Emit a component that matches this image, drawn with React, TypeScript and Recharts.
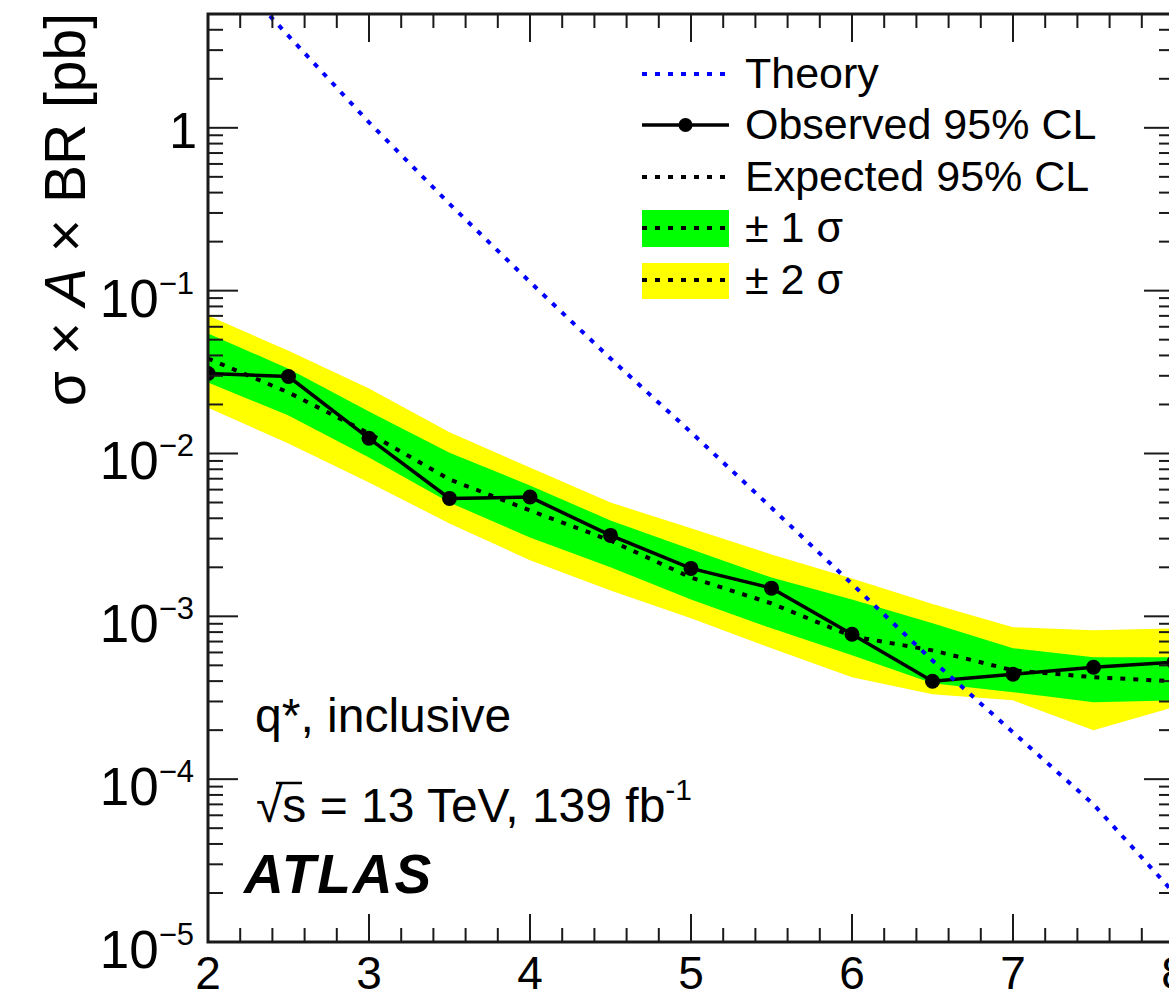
import { Area, ComposedChart, Line, XAxis, YAxis } from "recharts";

// q* mass points [TeV]
const mass = [2, 2.5, 3, 3.5, 4, 4.5, 5, 5.5, 6, 6.5, 7, 7.5, 8];

const observed = [0.031, 0.0297, 0.0124, 0.0053, 0.0054, 0.00314, 0.00197, 0.00149, 0.000776, 0.000399, 0.000441, 0.000487, 0.000522];
const expected = [0.0383, 0.0237, 0.0133, 0.00693, 0.00447, 0.00292, 0.00173, 0.0012, 0.000754, 0.000618, 0.000466, 0.000423, 0.000399];
const plus1 = [0.0545, 0.0332, 0.0181, 0.0101, 0.00636, 0.00388, 0.00258, 0.00173, 0.00127, 0.000906, 0.000637, 0.00056, 0.00056];
const minus1 = [0.0273, 0.0171, 0.00945, 0.005, 0.00305, 0.002, 0.00127, 0.000844, 0.000577, 0.000388, 0.000342, 0.000297, 0.000305];
const plus2 = [0.0703, 0.0428, 0.0251, 0.0135, 0.0082, 0.005, 0.00347, 0.0024, 0.00171, 0.00119, 0.000857, 0.00082, 0.000844];
const minus2 = [0.0191, 0.0115, 0.00664, 0.00372, 0.00221, 0.00144, 0.000972, 0.000637, 0.000423, 0.000332, 0.000305, 0.0002, 0.000277];
const theory = [12.5, 3.67, 1.08, 0.341, 0.113, 0.0383, 0.0135, 0.00464, 0.00158, 0.000535, 0.000194, 7.0e-5, 2.0e-5];

const xTicks = [2, 2.2, 2.4, 2.6, 2.8, 3, 3.2, 3.4, 3.6, 3.8, 4, 4.2, 4.4, 4.6, 4.8, 5, 5.2, 5.4, 5.6, 5.8, 6, 6.2, 6.4, 6.6, 6.8, 7, 7.2, 7.4, 7.6, 7.8, 8];
const yDecades = [1e-5, 1e-4, 1e-3, 1e-2, 1e-1, 1];
const yExponents = [-5, -4, -3, -2, -1, 0];
const yMinorSteps = [2, 3, 4, 5, 6, 7, 8, 9];
const yMax = 5;

const yTicks = [
  ...yDecades,
  ...yDecades.flatMap((d) => yMinorSteps.map((s) => s * d)).filter((v) => v <= yMax),
];

const data = mass.map((m, i) => ({
  m,
  observed: observed[i],
  expected: expected[i],
  theory: theory[i],
  band1: [minus1[i], plus1[i]],
  band2: [minus2[i], plus2[i]],
}));

const W = 1220;
const H = 1000;
const PLOT_LEFT = 208;
const PLOT_TOP = 14;
const PLOT_RIGHT = 1174;
const PLOT_BOTTOM = 942;
const AXIS = "#1a1a1a";
const FONT = "'Liberation Sans', Arial, Helvetica, sans-serif";
const DOTS = "5 8";

function XTick(props: any) {
  const { x, y, payload } = props;
  const v = payload.value as number;
  const major = Math.abs(v - Math.round(v)) < 1e-6;
  const len = major ? 28 : 14;
  return (
    <g>
      <line x1={x} x2={x} y1={y} y2={y - len} stroke={AXIS} strokeWidth={2} />
      <line x1={x} x2={x} y1={PLOT_TOP} y2={PLOT_TOP + len} stroke={AXIS} strokeWidth={2} />
      {major && (
        <text x={x} y={y + 47} textAnchor="middle" fontSize={46} fontFamily={FONT} fill="#000">
          {Math.round(v)}
        </text>
      )}
    </g>
  );
}

function YTick(props: any) {
  const { x, y, payload } = props;
  const v = payload.value as number;
  const idx = yDecades.findIndex((d) => Math.abs(v / d - 1) < 1e-6);
  const major = idx >= 0;
  const len = major ? 30 : 15;
  const exp = major ? yExponents[idx] : 0;
  return (
    <g>
      <line x1={x} x2={x + len} y1={y} y2={y} stroke={AXIS} strokeWidth={2} />
      <line x1={PLOT_RIGHT - len} x2={PLOT_RIGHT} y1={y} y2={y} stroke={AXIS} strokeWidth={2} />
      {major && exp === 0 && (
        <text x={x - 11} y={y + 20} textAnchor="end" fontSize={50} fontFamily={FONT} fill="#000">
          1
        </text>
      )}
      {major && exp !== 0 && (
        <text x={x - 14} y={y + 26} textAnchor="end" fontFamily={FONT} fill="#000">
          <tspan fontSize={53}>10</tspan>
          <tspan fontSize={31} dy={-23}>
            {"\u2212" + Math.abs(exp)}
          </tspan>
        </text>
      )}
    </g>
  );
}

function Overlay() {
  const lx1 = 642;
  const lx2 = 729;
  const tx = 745;
  const fs = 43;
  return (
    <svg
      width={W}
      height={H}
      style={{ position: "absolute", left: 0, top: 0, pointerEvents: "none" }}
      fontFamily={FONT}
    >
      <rect
        x={PLOT_LEFT}
        y={PLOT_TOP}
        width={PLOT_RIGHT - PLOT_LEFT}
        height={PLOT_BOTTOM - PLOT_TOP}
        fill="none"
        stroke={AXIS}
        strokeWidth={3}
      />
      {/* y axis title */}
      <text x={0} y={0} transform={`translate(85,13) rotate(-90)`} textAnchor="end" fontSize={57} fill="#000">
        σ × <tspan fontStyle="italic">A</tspan> × BR [pb]
      </text>

      {/* legend */}
      <line x1={lx1} x2={lx2} y1={74} y2={74} stroke="#0000ff" strokeWidth={4} strokeDasharray={DOTS} />
      <text x={tx} y={88} fontSize={fs} fill="#000">Theory</text>

      <line x1={lx1} x2={lx2} y1={125} y2={125} stroke="#000" strokeWidth={3.5} />
      <circle cx={(lx1 + lx2) / 2} cy={125} r={7} fill="#000" />
      <text x={tx} y={139} fontSize={fs} fill="#000">Observed 95% CL</text>

      <line x1={lx1} x2={lx2} y1={177} y2={177} stroke="#000" strokeWidth={4} strokeDasharray={DOTS} />
      <text x={tx} y={191} fontSize={fs} fill="#000">Expected 95% CL</text>

      <rect x={lx1} y={210} width={lx2 - lx1} height={37} fill="#00ff00" />
      <line x1={lx1} x2={lx2} y1={228} y2={228} stroke="#000" strokeWidth={4} strokeDasharray={DOTS} />
      <text x={tx} y={242} fontSize={fs} fill="#000">± 1 σ</text>

      <rect x={lx1} y={263} width={lx2 - lx1} height={36} fill="#ffff00" />
      <line x1={lx1} x2={lx2} y1={280} y2={280} stroke="#000" strokeWidth={4} strokeDasharray={DOTS} />
      <text x={tx} y={294} fontSize={fs} fill="#000">± 2 σ</text>

      {/* labels */}
      <text x={255} y={732} fontSize={48} fill="#000">q*, inclusive</text>
      <text x={256} y={822} fontSize={48} fill="#000">
        √s = 13 TeV, 139 fb<tspan fontSize={30} dy={-22}>-1</tspan>
      </text>
      <line x1={276} x2={302} y1={783} y2={783} stroke="#000" strokeWidth={2.5} />
      <text
        x={244}
        y={893}
        fontSize={55}
        fontWeight="bold"
        fontStyle="italic"
        letterSpacing={2}
        fill="#000"
      >
        ATLAS
      </text>
    </svg>
  );
}

export default function App() {
  return (
    <div
      style={{
        position: "fixed",
        left: 0,
        top: 0,
        width: 1169,
        height: 1000,
        overflow: "hidden",
        background: "#fff",
      }}
    >
      <div style={{ position: "relative", width: W, height: H }}>
        <ComposedChart
          width={W}
          height={H}
          data={data}
          margin={{ top: PLOT_TOP, right: W - PLOT_RIGHT, bottom: 0, left: 0 }}
        >
          <XAxis
            dataKey="m"
            type="number"
            domain={[2, 8]}
            ticks={xTicks}
            interval={0}
            allowDataOverflow
            height={H - PLOT_BOTTOM}
            axisLine={false}
            tickLine={false}
            tickSize={0}
            tickMargin={0}
            tick={XTick}
          />
          <YAxis
            type="number"
            scale="log"
            domain={[1e-5, yMax]}
            ticks={yTicks}
            interval={0}
            allowDataOverflow
            width={PLOT_LEFT}
            axisLine={false}
            tickLine={false}
            tickSize={0}
            tickMargin={0}
            tick={YTick}
          />
          <Area
            dataKey="band2"
            type="linear"
            stroke="none"
            fill="#ffff00"
            fillOpacity={1}
            isAnimationActive={false}
          />
          <Area
            dataKey="band1"
            type="linear"
            stroke="none"
            fill="#00ff00"
            fillOpacity={1}
            isAnimationActive={false}
          />
          <Line
            dataKey="expected"
            type="linear"
            stroke="#000"
            strokeWidth={4}
            strokeDasharray={DOTS}
            dot={false}
            isAnimationActive={false}
          />
          <Line
            dataKey="observed"
            type="linear"
            stroke="#000"
            strokeWidth={3.5}
            dot={{ r: 7.5, fill: "#000", stroke: "#000", strokeWidth: 0 }}
            isAnimationActive={false}
          />
          <Line
            dataKey="theory"
            type="linear"
            stroke="#0000ff"
            strokeWidth={4}
            strokeDasharray={DOTS}
            dot={false}
            isAnimationActive={false}
          />
        </ComposedChart>
        <Overlay />
      </div>
    </div>
  );
}
